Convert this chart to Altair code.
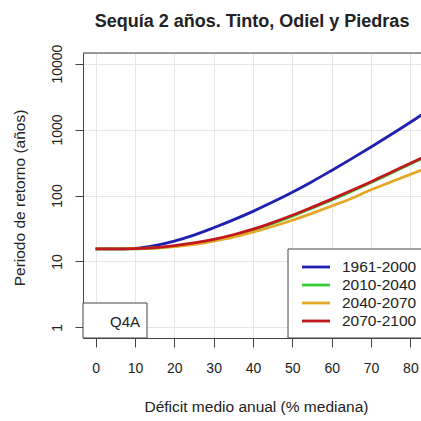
import altair as alt
import pandas as pd

# Return period (years) of 2-year droughts vs. mean annual deficit (% of median)
deficit = [0, 5, 10, 15, 20, 25, 30, 35, 40, 45, 50, 55, 60, 65, 70, 75, 80, 85]
rp_1961_2000 = [15.5, 15.5, 15.8, 17.4, 20.4, 25.1, 32.4, 42.7, 57.5, 79.4,
                112, 162, 240, 359, 543, 832, 1288, 2042]
rp_2010_2040 = [15.5, 15.5, 15.6, 16.0, 17.0, 18.6, 21.0, 24.6, 29.9, 37.7,
                48.6, 64.1, 85.5, 115, 157, 217, 300, 414]
rp_2040_2070 = [15.5, 15.5, 15.7, 16.0, 16.8, 18.2, 20.4, 23.4, 27.9, 33.9,
                42.2, 53.7, 69.2, 90.2, 122, 160, 209, 272]
rp_2070_2100 = [15.5, 15.5, 15.7, 16.2, 17.4, 19.1, 21.6, 25.4, 30.9, 38.9,
                50.1, 66.1, 88.1, 119, 162, 224, 309, 427]

periods = ["1961-2000", "2010-2040", "2040-2070", "2070-2100"]
colors = ["#2020b0", "#35d035", "#e4a826", "#c0181c"]
series = [rp_1961_2000, rp_2010_2040, rp_2040_2070, rp_2070_2100]

x_ticks = [0, 10, 20, 30, 40, 50, 60, 70, 80]
y_ticks = [1, 10, 100, 1000, 10000]

rows = []
for name, vals in zip(periods, series):
    for d, v in zip(deficit, vals):
        rows.append({"deficit": d, "periodo": v, "serie": name})
df = pd.DataFrame(rows)

FONT = "Liberation Sans"
INK = "#222222"
FRAME = "#444444"
W, H = 338, 285
one = pd.DataFrame({"k": [0]})

x_axis = alt.Axis(
    values=x_ticks, title="Déficit medio anual (% mediana)",
    grid=True, gridColor="#e6e6e6", domainColor=FRAME, tickColor=FRAME,
    tickSize=9, labelFontSize=14, labelFont=FONT, labelColor=INK,
    labelPadding=14, labelFlush=False,
    titleFont=FONT, titleFontSize=15.5, titleFontWeight="normal", titleColor=INK,
    titleBaseline="alphabetic", titleX=173, titleY=73.5,
)
y_axis = alt.Axis(
    values=y_ticks, format="d", title="Periodo de retorno (años)",
    grid=True, gridColor="#e6e6e6", domainColor=FRAME, tickColor=FRAME,
    tickSize=8, labelFontSize=14, labelFont=FONT, labelColor=INK,
    labelAngle=270, labelAlign="center", labelBaseline="alphabetic",
    labelPadding=13.5, labelFlush=False,
    titleFont=FONT, titleFontSize=15.5, titleFontWeight="normal", titleColor=INK,
    titleAngle=270, titleBaseline="alphabetic", titleX=-58.5, titleY=144.5,
)

curves = alt.Chart(df).mark_line(
    strokeWidth=2.8, clip=True, interpolate="monotone"
).encode(
    x=alt.X("deficit:Q", scale=alt.Scale(domain=[-3.2, 82.7], nice=False, zero=False), axis=x_axis),
    y=alt.Y("periodo:Q", scale=alt.Scale(type="log", domain=[0.692, 14454], nice=False), axis=y_axis),
    color=alt.Color("serie:N", scale=alt.Scale(domain=periods, range=colors), legend=None),
)

# top edge of the plot frame
frame_top = alt.Chart(one).mark_rule(color=FRAME, strokeWidth=1).encode(
    x=alt.value(0), x2=alt.value(W + 20), y=alt.value(0)
)

# "Q4A" label box, bottom-left corner
q4a_box = alt.Chart(one).mark_rect(fill="white", stroke=FRAME, strokeWidth=1).encode(
    x=alt.value(0), x2=alt.value(64), y=alt.value(250), y2=alt.value(H)
)
q4a_text = alt.Chart(one).mark_text(
    text="Q4A", font=FONT, fontSize=15, color=INK, align="center", baseline="middle"
).encode(x=alt.value(42), y=alt.value(269))

# legend box, bottom-right corner
leg_box = alt.Chart(one).mark_rect(fill="white", stroke=FRAME, strokeWidth=1).encode(
    x=alt.value(205), x2=alt.value(W + 30), y=alt.value(196), y2=alt.value(H)
)
legend_layers = [leg_box]
for i, (name, col) in enumerate(zip(periods, colors)):
    ry = 214 + 18 * i
    legend_layers.append(
        alt.Chart(one).mark_rule(color=col, strokeWidth=2.8).encode(
            x=alt.value(219), x2=alt.value(247), y=alt.value(ry)
        )
    )
    legend_layers.append(
        alt.Chart(one).mark_text(
            text=name, font=FONT, fontSize=15.5, color=INK, align="left", baseline="middle"
        ).encode(x=alt.value(259), y=alt.value(ry))
    )

chart = alt.layer(
    curves, frame_top, q4a_box, q4a_text, *legend_layers
).properties(
    width=W, height=H,
    title=alt.TitleParams(
        "Sequía 2 años. Tinto, Odiel y Piedras", font=FONT, fontSize=18,
        fontWeight="bold", color=INK, anchor="middle", baseline="alphabetic", offset=-1,
    ),
    padding={"left": 83, "top": 53, "right": 0, "bottom": 83},
    autosize=alt.AutoSizeParams(type="none"),
).configure_view(stroke=None).configure(background="white")

chart.save("out.html", embed_options={"renderer": "svg", "actions": False})
